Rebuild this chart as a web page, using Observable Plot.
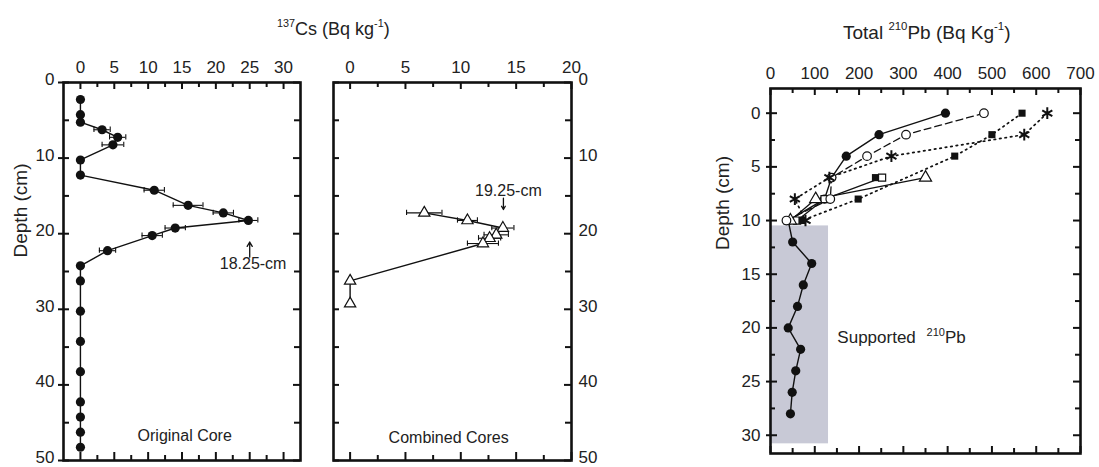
<!DOCTYPE html>
<html><head><meta charset="utf-8">
<script src="https://cdn.jsdelivr.net/npm/d3@7"></script>
<script src="https://cdn.jsdelivr.net/npm/@observablehq/plot@0.6"></script>
<style>
body{margin:0;background:#fff;font-family:"Liberation Sans",Arial,Helvetica,sans-serif;}
#wrap{position:relative;width:1099px;height:467px;overflow:hidden;background:#fff}
.p{position:absolute;top:0}
.title{position:absolute;color:#222;white-space:nowrap;line-height:1}
.title sup{font-size:0.6em;vertical-align:0.75em;line-height:0}
</style></head>
<body><div id="wrap">
<div class="title" style="left:277px;top:20px;font-size:18px"><sup>137</sup>Cs (Bq kg<sup>-1</sup>)</div>
<div class="title" style="left:843px;top:23px;font-size:19px">Total <sup>210</sup>Pb (Bq Kg<sup>-1</sup>)</div>
</div>
<script>
// ---------- data ----------
// Original core, 137Cs
const csOrigDepth = [2.25,4.25,5.25,6.25,7.25,8.25,10.25,12.25,14.25,16.25,17.25,18.25,19.25,20.25,22.25,24.25,26.25,30.25,34.25,38.25,42.25,44.25,46.25,48.25];
const csOrigValue = [0,0,0,3.2,5.5,4.8,0,0,10.9,15.9,21.1,24.8,14.0,10.6,4.0,0,0,0,0,0,0,0,0,0];
const csOrigErr   = [0,0,0,1.2,1.2,1.6,0,0,1.5,2.2,1.5,1.4,1.5,1.5,1.2,0,0,0,0,0,0,0,0,0];
// Combined cores, 137Cs
const csCombDepth = [17.25,18.25,19.25,20.15,20.6,21.3,26.25,29.25];
const csCombValue = [6.7,10.6,13.8,13.2,12.6,12.0,0,0];
const csCombErr   = [1.6,0.9,1.0,1.1,1.0,1.4,0,0];
// Total 210Pb, several cores
const pbDepthA = [0,2,4,6,8,10,12,14,16,18,20,22,24,26,28];
const pbValueA = [395,245,171,138,122,40,50,93,74,61,40,68,57,49,45];
const pbDepthB = [0,2,4,6,8,10];
const pbValueB = [482,306,218,138,135,36];
const pbDepthC = [0,2,4,8,10];
const pbValueC = [568,500,416,198,71];
const pbDepthD = [0,2,4,6,8,10];
const pbValueD = [625,573,273,133,55,79];
const pbDepthE = [6,8,10];
const pbValueE = [350,102,45];
const pbDepthF = [6,8,10];
const pbValueF = [252,122,60];
const pbDepthG = [6];
const pbValueG = [237];
const supportedBand = [{x1:0, x2:131, y1:10.5, y2:30.8}];
// axes ticks
const csYTicks = [0,10,20,30,40,50];
const csYMinor = [5,15,25,35,45];
const csXTicks1 = [0,5,10,15,20,25,30];
const csXMinor1 = [2.5,7.5,12.5,17.5,22.5,27.5];
const csXTicks2 = [0,5,10,15,20];
const csXMinor2 = [2.5,7.5,12.5,17.5];
const pbXTicks = [0,100,200,300,400,500,600,700];
const pbXMinor = [50,150,250,350,450,550,650];
const pbYTicks = [0,5,10,15,20,25,30];
const pbYMinor = [2.5,7.5,12.5,17.5,22.5,27.5];
// annotations
const annOrig = [{x:25, y1:23.1, y2:21.1, tx:25.5, ty:24.0, label:"18.25-cm"}];
const annComb = [{x:13.85, y1:15.3, y2:16.8, tx:14.3, ty:14.3, label:"19.25-cm"}];

const zip = (d, v, e) => d.map((depth, i) => ({depth, v: v[i], e: e ? e[i] : 0}));
const orig = zip(csOrigDepth, csOrigValue, csOrigErr);
const comb = zip(csCombDepth, csCombValue, csCombErr);

const FONT = "Liberation Sans, Arial, Helvetica, sans-serif";
const INK = "#111";

function frameTicks(xd, yd, ppx, ppy, spec) {
  const m = [];
  const sw = 2;
  for (const [side, vals, len, out] of spec) {
    const o = out || 0;
    if (side === "top" || side === "bottom") {
      const y0 = side === "top" ? yd[0] - o/ppy : yd[1] + o/ppy;
      const y1 = side === "top" ? yd[0] + len/ppy : yd[1] - len/ppy;
      m.push(Plot.ruleX(vals, {x: d => d, y1: y0, y2: y1, stroke: INK, strokeWidth: sw}));
    } else {
      const x0 = side === "left" ? xd[0] - o/ppx : xd[1] + o/ppx;
      const x1 = side === "left" ? xd[0] + len/ppx : xd[1] - len/ppx;
      m.push(Plot.ruleY(vals, {y: d => d, x1: x0, x2: x1, stroke: INK, strokeWidth: sw}));
    }
  }
  return m;
}

function errMarks(data, cap) {
  const d = data.filter(r => r.e > 0);
  return [
    Plot.ruleY(d, {y: "depth", x1: r => r.v - r.e, x2: r => r.v + r.e, stroke: INK, strokeWidth: 1.1}),
    Plot.ruleX(d, {x: r => r.v - r.e, y1: r => r.depth - cap, y2: r => r.depth + cap, stroke: INK, strokeWidth: 1.1}),
    Plot.ruleX(d, {x: r => r.v + r.e, y1: r => r.depth - cap, y2: r => r.depth + cap, stroke: INK, strokeWidth: 1.1})
  ];
}

const wrap = document.getElementById("wrap");
function place(svg, left) {
  svg.classList.add("p");
  svg.style.left = left + "px";
  svg.style.position = "absolute";
  svg.style.top = "0px";
  wrap.appendChild(svg);
}

// ---------- left panel ----------
{
  const xd = [-2.5, 32.5], yd = [0, 50];
  const ppx = 237 / 35, ppy = 378 / 50;
  const p = Plot.plot({
    width: 330, height: 467, marginLeft: 63, marginRight: 30, marginTop: 82, marginBottom: 7,
    style: {fontFamily: FONT, color: "#222", background: "transparent"},
    x: {domain: xd, axis: null},
    y: {domain: yd, reverse: true, axis: null},
    marks: [
      Plot.axisX(csXTicks1, {anchor: "top", tickSize: 0, tickPadding: 10, fontSize: 17, label: null}),
      Plot.axisY(csYTicks, {anchor: "left", tickSize: 0, tickPadding: 9, fontSize: 17, label: null, dy: -3}),
      Plot.text(["Depth (cm)"], {frameAnchor: "left", rotate: -90, dx: -43, dy: -14, fontSize: 19, fill: "#222"}),
      ...frameTicks(xd, yd, ppx, ppy, [
        ["top", csXTicks1, 7], ["top", csXMinor1, 5],
        ["bottom", csXTicks1, 8], ["bottom", csXMinor1, 5],
        ["left", csYTicks, 6, 5], ["left", csYMinor, 6],
        ["right", csYTicks, 7], ["right", csYMinor, 6]
      ]),
      ...errMarks(orig, 0.35),
      Plot.line(orig, {x: "v", y: "depth", stroke: INK, strokeWidth: 1.4}),
      Plot.dot(orig, {x: "v", y: "depth", r: 4.6, fill: INK, stroke: "none"}),
      Plot.arrow(annOrig, {x1: "x", y1: "y1", x2: "x", y2: "y2", stroke: INK, strokeWidth: 1.3, headLength: 7}),
      Plot.text(annOrig, {x: "tx", y: "ty", text: "label", fontSize: 16, fill: "#222"}),
      Plot.text(["Original Core"], {x: [15.4], y: [46.8], fontSize: 16, fill: "#222"}),
      Plot.frame({stroke: INK, strokeWidth: 2.6})
    ]
  });
  place(p, 0);
}

// ---------- middle panel ----------
{
  const xd = [-1.5, 20], yd = [0, 50];
  const ppx = 238 / 21.5, ppy = 378 / 50;
  const p = Plot.plot({
    width: 300, height: 467, marginLeft: 13, marginRight: 49, marginTop: 82, marginBottom: 7,
    style: {fontFamily: FONT, color: "#222", background: "transparent"},
    x: {domain: xd, axis: null},
    y: {domain: yd, reverse: true, axis: null},
    marks: [
      Plot.axisX(csXTicks2, {anchor: "top", tickSize: 0, tickPadding: 10, fontSize: 17, label: null}),
      Plot.axisY(csYTicks, {anchor: "right", tickSize: 0, tickPadding: 7, fontSize: 17, label: null, dy: -3}),
      ...frameTicks(xd, yd, ppx, ppy, [
        ["top", csXTicks2, 7], ["top", csXMinor2, 5],
        ["bottom", csXTicks2, 8], ["bottom", csXMinor2, 5],
        ["left", csYTicks, 6], ["left", csYMinor, 6],
        ["right", csYTicks, 7], ["right", csYMinor, 6]
      ]),
      ...errMarks(comb, 0.35),
      Plot.line(comb, {x: "v", y: "depth", stroke: INK, strokeWidth: 1.4}),
      Plot.dot(comb, {x: "v", y: "depth", r: 4.2, symbol: "triangle", fill: "white", stroke: INK, strokeWidth: 1.2}),
      Plot.arrow(annComb, {x1: "x", y1: "y1", x2: "x", y2: "y2", stroke: INK, strokeWidth: 1.3, headLength: 7}),
      Plot.text(annComb, {x: "tx", y: "ty", text: "label", fontSize: 16, fill: "#222"}),
      Plot.text(["Combined Cores"], {x: [8.9], y: [47.0], fontSize: 16, fill: "#222"}),
      Plot.frame({stroke: INK, strokeWidth: 2.6})
    ]
  });
  place(p, 320);
}

// ---------- right panel ----------
{
  const xd = [0, 700], yd = [-2.3, 31.7];
  const ppx = 310 / 700, ppy = 365 / 34;
  const A = zip(pbDepthA, pbValueA), B = zip(pbDepthB, pbValueB), C = zip(pbDepthC, pbValueC);
  const D = zip(pbDepthD, pbValueD), E = zip(pbDepthE, pbValueE), F = zip(pbDepthF, pbValueF), G = zip(pbDepthG, pbValueG);
  const p = Plot.plot({
    width: 399, height: 467, marginLeft: 70, marginRight: 19, marginTop: 88, marginBottom: 14,
    style: {fontFamily: FONT, color: "#222", background: "transparent"},
    x: {domain: xd, axis: null},
    y: {domain: yd, reverse: true, axis: null},
    marks: [
      Plot.rect(supportedBand, {x1: "x1", x2: "x2", y1: "y1", y2: "y2", fill: "#c8c9d6"}),
      Plot.axisX(pbXTicks, {anchor: "top", tickSize: 0, tickPadding: 10, fontSize: 17, label: null}),
      Plot.axisY(pbYTicks, {anchor: "left", tickSize: 0, tickPadding: 10, fontSize: 17, label: null}),
      Plot.text(["Depth (cm)"], {frameAnchor: "left", rotate: -90, dx: -48, dy: -21, fontSize: 19, fill: "#222"}),
      ...frameTicks(xd, yd, ppx, ppy, [
        ["top", pbXTicks, 7], ["top", pbXMinor, 5],
        ["bottom", pbXTicks, 7], ["bottom", pbXMinor, 5],
        ["left", pbYTicks, 7, 4], ["left", pbYMinor, 5],
        ["right", pbYTicks, 7], ["right", pbYMinor, 5]
      ]),
      Plot.line(A, {x: "v", y: "depth", stroke: INK, strokeWidth: 1.4}),
      Plot.line(E, {x: "v", y: "depth", stroke: INK, strokeWidth: 1.3}),
      Plot.line(F, {x: "v", y: "depth", stroke: INK, strokeWidth: 1.3}),
      Plot.line(B, {x: "v", y: "depth", stroke: INK, strokeWidth: 1.3, strokeDasharray: "7,4"}),
      Plot.line(C, {x: "v", y: "depth", stroke: INK, strokeWidth: 1.7, strokeDasharray: "1.5,4", strokeLinecap: "round"}),
      Plot.line(D, {x: "v", y: "depth", stroke: INK, strokeWidth: 1.7, strokeDasharray: "1.5,4", strokeLinecap: "round"}),
      Plot.dot(A, {x: "v", y: "depth", r: 4.6, fill: INK, stroke: "none"}),
      Plot.dot(G, {x: "v", y: "depth", r: 4, symbol: "square", fill: INK, stroke: "none"}),
      Plot.dot(F, {x: "v", y: "depth", r: 4, symbol: "square", fill: "white", stroke: INK, strokeWidth: 1.2}),
      Plot.dot(E, {x: "v", y: "depth", r: 4.5, symbol: "triangle", fill: "white", stroke: INK, strokeWidth: 1.2}),
      Plot.dot(B, {x: "v", y: "depth", r: 4.3, fill: "white", stroke: INK, strokeWidth: 1.2}),
      Plot.dot(C, {x: "v", y: "depth", r: 4, symbol: "square", fill: INK, stroke: "none"}),
      Plot.dot(D, {x: "v", y: "depth", r: 5.5, symbol: "asterisk", stroke: INK, strokeWidth: 2}),
      Plot.text(["Supported 210Pb"], {x: [151], y: [20.9], textAnchor: "start", fontSize: 17, fill: "#222"}),
      Plot.frame({stroke: INK, strokeWidth: 2.6})
    ]
  });
  // superscript in "Supported 210Pb"
  p.querySelectorAll("text").forEach(t => {
    if (t.textContent === "Supported 210Pb") {
      t.textContent = "";
      const ns = "http://www.w3.org/2000/svg";
      const a = document.createElementNS(ns, "tspan"); a.textContent = "Supported ";
      const b = document.createElementNS(ns, "tspan"); b.textContent = "210"; b.setAttribute("font-size", "11"); b.setAttribute("dy", "-7"); b.setAttribute("dx", "6");
      const c = document.createElementNS(ns, "tspan"); c.textContent = "Pb"; c.setAttribute("dy", "7");
      t.append(a, b, c);
    }
  });
  place(p, 700);
}
</script>
</body></html>
